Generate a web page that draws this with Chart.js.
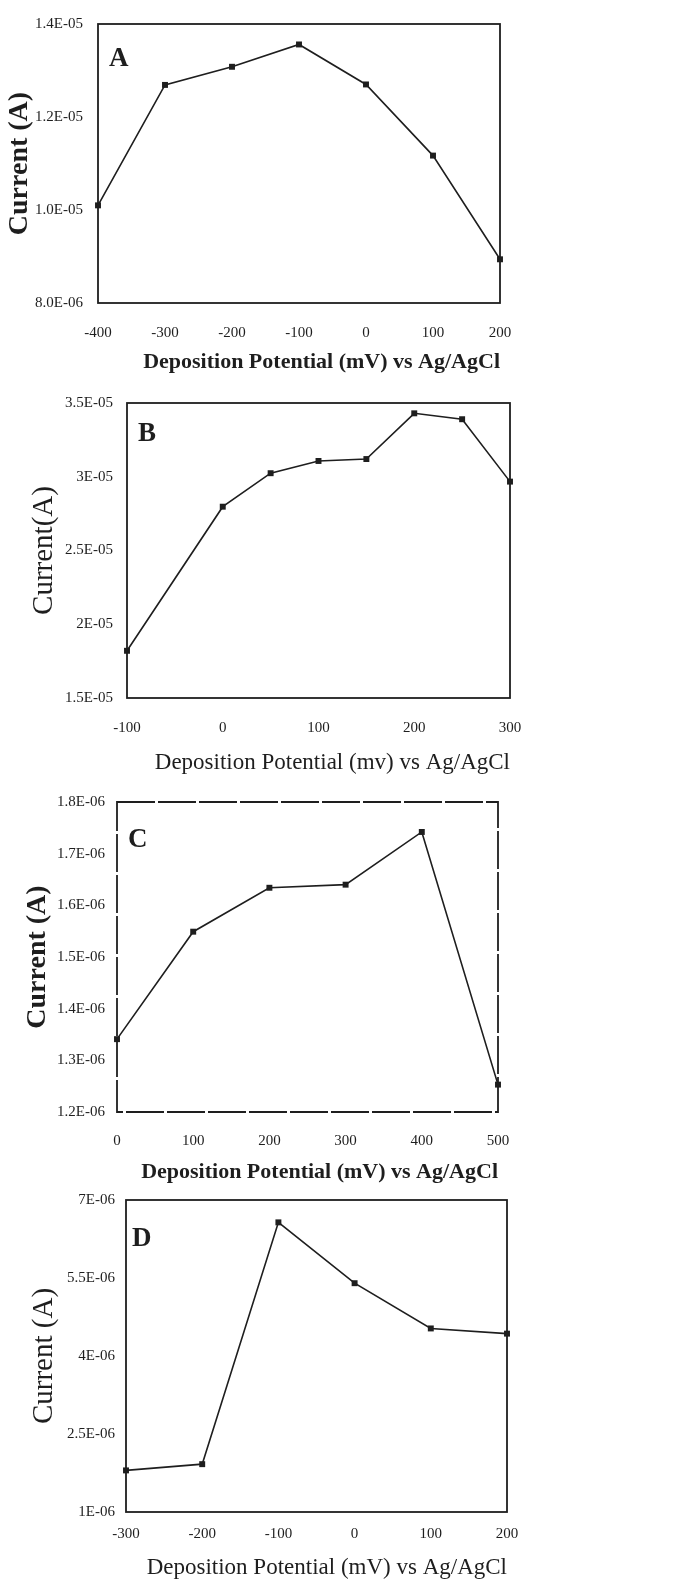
<!DOCTYPE html>
<html>
<head>
<meta charset="utf-8">
<script src="https://cdn.jsdelivr.net/npm/chart.js@4/dist/chart.umd.min.js"></script>
<style>
  body { margin: 0; background: #fff; }
  .panel { position: absolute; left: 0; width: 686px; }
  canvas { display: block; }
</style>
</head>
<body>
<div class="panel" style="top:0px"><canvas id="chartA" width="686" height="380"></canvas></div>
<div class="panel" style="top:380px"><canvas id="chartB" width="686" height="400"></canvas></div>
<div class="panel" style="top:780px"><canvas id="chartC" width="686" height="410"></canvas></div>
<div class="panel" style="top:1180px"><canvas id="chartD" width="686" height="408"></canvas></div>
<script>
// panel A
const potentialA = [-400, -300, -200, -100, 0, 100, 200];
const currentA = [1.01e-5, 1.269e-5, 1.308e-5, 1.356e-5, 1.270e-5, 1.117e-5, 8.94e-6];
const xTicksA = [-400, -300, -200, -100, 0, 100, 200];
const xLabelsA = ['-400', '-300', '-200', '-100', '0', '100', '200'];
const yTicksA = [8e-6, 1.0e-5, 1.2e-5, 1.4e-5];
const yLabelsA = ['8.0E-06', '1.0E-05', '1.2E-05', '1.4E-05'];

// panel B
const potentialB = [-100, 0, 50, 100, 150, 200, 250, 300];
const currentB = [1.82e-5, 2.797e-5, 3.024e-5, 3.107e-5, 3.12e-5, 3.43e-5, 3.39e-5, 2.967e-5];
const xTicksB = [-100, 0, 100, 200, 300];
const xLabelsB = ['-100', '0', '100', '200', '300'];
const yTicksB = [1.5e-5, 2.0e-5, 2.5e-5, 3.0e-5, 3.5e-5];
const yLabelsB = ['1.5E-05', '2E-05', '2.5E-05', '3E-05', '3.5E-05'];

// panel C
const potentialC = [0, 100, 200, 300, 400, 500];
const currentC = [1.341e-6, 1.549e-6, 1.634e-6, 1.640e-6, 1.742e-6, 1.253e-6];
const xTicksC = [0, 100, 200, 300, 400, 500];
const xLabelsC = ['0', '100', '200', '300', '400', '500'];
const yTicksC = [1.2e-6, 1.3e-6, 1.4e-6, 1.5e-6, 1.6e-6, 1.7e-6, 1.8e-6];
const yLabelsC = ['1.2E-06', '1.3E-06', '1.4E-06', '1.5E-06', '1.6E-06', '1.7E-06', '1.8E-06'];

// panel D
const potentialD = [-300, -200, -100, 0, 100, 200];
const currentD = [1.80e-6, 1.92e-6, 6.57e-6, 5.40e-6, 4.53e-6, 4.43e-6];
const xTicksD = [-300, -200, -100, 0, 100, 200];
const xLabelsD = ['-300', '-200', '-100', '0', '100', '200'];
const yTicksD = [1.0e-6, 2.5e-6, 4.0e-6, 5.5e-6, 7.0e-6];
const yLabelsD = ['1E-06', '2.5E-06', '4E-06', '5.5E-06', '7E-06'];

const serif = "'Liberation Serif', 'Times New Roman', serif";
const ink = '#1e1e1e';

function framePlugin(letter, lx, ly, dash) {
  return {
    id: 'frame',
    beforeDatasetsDraw(chart) {
      const a = chart.chartArea;
      const ctx = chart.ctx;
      ctx.save();
      ctx.strokeStyle = ink;
      ctx.lineWidth = 1.8;
      if (dash) ctx.setLineDash(dash);
      ctx.strokeRect(a.left, a.top, a.right - a.left, a.bottom - a.top);
      ctx.restore();
    },
    afterDraw(chart) {
      const a = chart.chartArea;
      const ctx = chart.ctx;
      ctx.save();
      ctx.fillStyle = ink;
      ctx.font = 'bold 27px ' + serif;
      ctx.textAlign = 'left';
      ctx.textBaseline = 'alphabetic';
      ctx.fillText(letter, a.left + lx, a.top + ly);
      ctx.restore();
    }
  };
}

function makePanel(id, xs, ys, xt, xl, yt, yl, o) {
  const ctx = document.getElementById(id).getContext('2d');
  const H = ctx.canvas.height;
  new Chart(ctx, {
    type: 'line',
    data: {
      datasets: [{
        data: xs.map((x, i) => ({ x: x, y: ys[i] })),
        borderColor: ink,
        borderWidth: 1.6,
        pointStyle: 'rect',
        pointRadius: 4.2,
        pointBackgroundColor: ink,
        pointBorderWidth: 0,
        tension: 0,
        clip: false
      }]
    },
    options: {
      responsive: false,
      animation: false,
      layout: { padding: { top: o.top, right: 686 - o.right, left: 0, bottom: 0 } },
      plugins: { legend: { display: false }, tooltip: { enabled: false } },
      scales: {
        x: {
          type: 'linear',
          min: xt[0],
          max: xt[xt.length - 1],
          grid: { display: false, drawTicks: false },
          border: { display: false },
          afterBuildTicks: s => { s.ticks = xt.map(v => ({ value: v })); },
          afterFit: s => { s.height = H - o.bottom; },
          ticks: {
            callback: (v, i) => xl[i],
            padding: o.xPad,
            autoSkip: false,
            maxRotation: 0,
            color: ink,
            font: { family: serif, size: 15 }
          },
          title: {
            display: true,
            text: o.xTitle,
            align: 'end',
            color: ink,
            padding: { top: 0, bottom: o.xTitlePad },
            font: { family: serif, size: o.bold ? 22 : 23, weight: o.bold ? 'bold' : 'normal' }
          }
        },
        y: {
          min: yt[0],
          max: yt[yt.length - 1],
          grid: { display: false, drawTicks: false },
          border: { display: false },
          afterBuildTicks: s => { s.ticks = yt.map(v => ({ value: v })); },
          afterFit: s => { s.width = o.left; },
          ticks: {
            callback: (v, i) => yl[i],
            padding: o.yPad,
            autoSkip: false,
            color: ink,
            font: { family: serif, size: 15 }
          },
          title: {
            display: true,
            text: o.yTitle,
            color: ink,
            padding: { top: o.yTitlePad, bottom: 0 },
            font: { family: serif, size: o.bold ? 28 : 29, weight: o.bold ? 'bold' : 'normal' }
          }
        }
      }
    },
    plugins: [framePlugin(o.letter, o.lx, o.ly, o.dash)]
  });
}

makePanel('chartA', potentialA, currentA, xTicksA, xLabelsA, yTicksA, yLabelsA, {
  left: 98, right: 500, top: 15, bottom: 303, xPad: 21, xTitlePad: 4, yPad: 15, yTitlePad: 3,
  xTitle: 'Deposition Potential (mV) vs Ag/AgCl', yTitle: 'Current (A)', bold: true,
  letter: 'A', lx: 11, ly: 42
});
makePanel('chartB', potentialB, currentB, xTicksB, xLabelsB, yTicksB, yLabelsB, {
  left: 127, right: 510, top: 22, bottom: 318, xPad: 21, xTitlePad: 3, yPad: 14, yTitlePad: 27,
  xTitle: 'Deposition Potential (mv) vs Ag/AgCl', yTitle: 'Current(A)', bold: false,
  letter: 'B', lx: 11, ly: 38
});
makePanel('chartC', potentialC, currentC, xTicksC, xLabelsC, yTicksC, yLabelsC, {
  left: 117, right: 498, top: 22, bottom: 332, xPad: 20, xTitlePad: 4, yPad: 12, yTitlePad: 21,
  xTitle: 'Deposition Potential (mV) vs Ag/AgCl', yTitle: 'Current (A)', bold: true,
  letter: 'C', lx: 11, ly: 45, dash: [38, 3]
});
makePanel('chartD', potentialD, currentD, xTicksD, xLabelsD, yTicksD, yLabelsD, {
  left: 126, right: 507, top: 18, bottom: 332, xPad: 13, xTitlePad: 6, yPad: 11, yTitlePad: 27,
  xTitle: 'Deposition Potential (mV) vs Ag/AgCl', yTitle: 'Current (A)', bold: false,
  letter: 'D', lx: 6, ly: 46
});
</script>
</body>
</html>
